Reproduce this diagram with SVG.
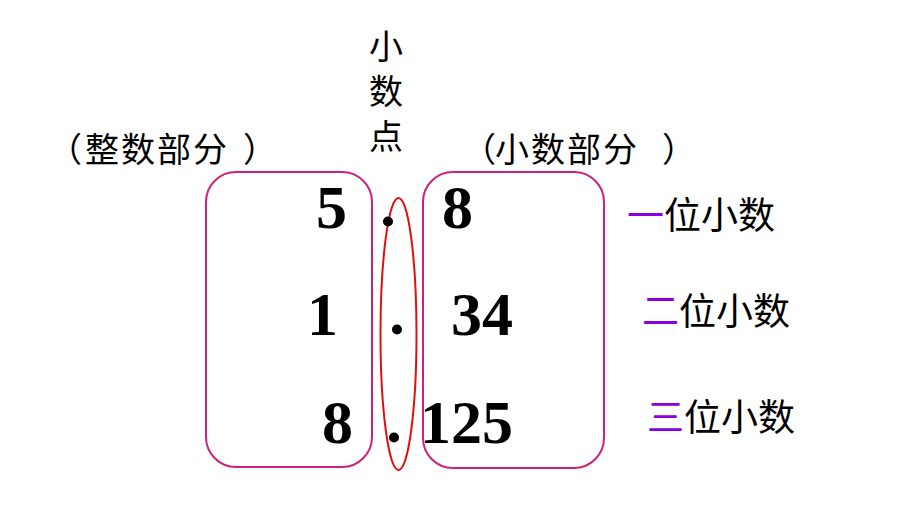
<svg xmlns="http://www.w3.org/2000/svg" width="920" height="517" viewBox="0 0 920 517">
<style>
.cjk{font-family:"Noto Sans CJK SC","Noto Sans CJK JP",sans-serif;fill:#000}
.num{font-family:"Liberation Serif","Times New Roman",serif;font-weight:bold;font-size:62px;fill:#000}
.box{fill:none;stroke:#CC2277;stroke-width:2}
.ring{fill:none;stroke:#E01010;stroke-width:2}
.pur{fill:#8A00E0}
</style>
<rect width="920" height="517" fill="#fff"/>
<g id="label-point" class="cjk" font-size="34" text-anchor="middle">
<text x="386" y="59">小</text>
<text x="386" y="104">数</text>
<text x="386" y="149">点</text>
</g>
<g id="label-int" class="cjk" font-size="34"><text x="48 85 121 157 193 243" y="162">（整数部分）</text></g>
<g id="label-frac" class="cjk" font-size="34"><text x="462 495 531 567 603 662" y="162">（小数部分）</text></g>
<g id="int-part"><rect class="box" x="206" y="172" width="166" height="295" rx="30" ry="30"/></g>
<g id="frac-part"><rect class="box" x="423" y="172" width="181" height="296" rx="30" ry="30"/></g>
<g id="point-ring"><ellipse class="ring" cx="398.5" cy="334" rx="18" ry="136"/></g>
<g id="numbers" class="num">
<text x="316" y="228">5</text>
<text x="388" y="226" text-anchor="middle">.</text>
<text x="442" y="228">8</text>
<text x="307" y="335">1</text>
<text x="397" y="334" text-anchor="middle">.</text>
<text x="451" y="335">34</text>
<text x="322" y="443">8</text>
<text x="394" y="442" text-anchor="middle">.</text>
<text x="420" y="443">125</text>
</g>
<g id="label-1" class="cjk" font-size="37"><text x="627" y="229"><tspan class="pur">一</tspan>位小数</text></g>
<g id="label-2" class="cjk" font-size="37"><text x="642" y="325"><tspan class="pur">二</tspan>位小数</text></g>
<g id="label-3" class="cjk" font-size="37"><text x="647" y="431"><tspan class="pur">三</tspan>位小数</text></g>
</svg>
